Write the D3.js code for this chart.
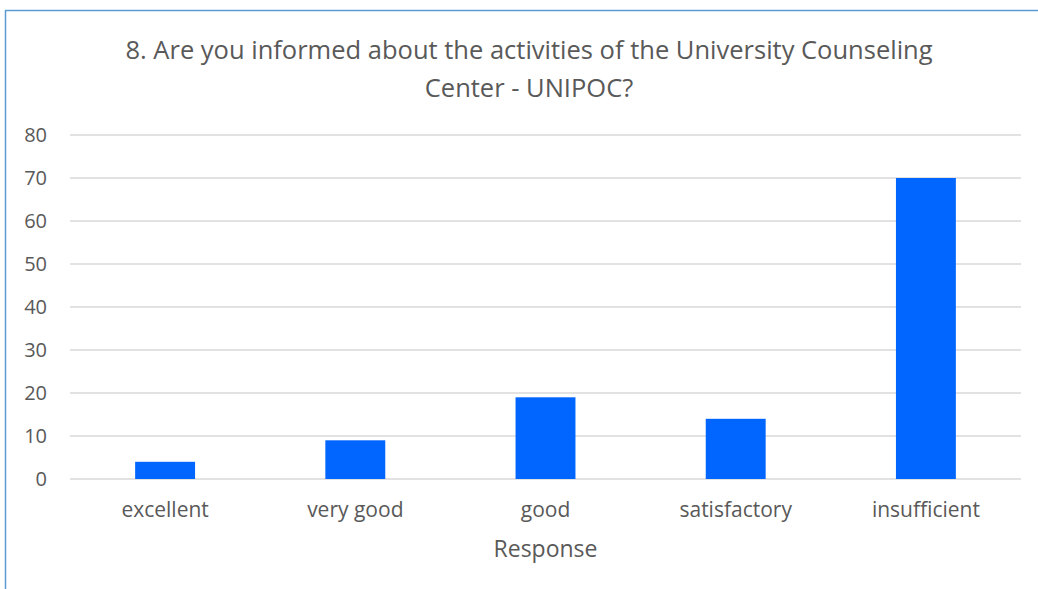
<!DOCTYPE html>
<html>
<head>
<meta charset="utf-8">
<script src="https://cdn.jsdelivr.net/npm/d3@7"></script>
<style>
  body { margin: 0; background: #fff; }
  text { font-family: "Open Sans", "Noto Sans", sans-serif; fill: #595959; }
  .grid-line { stroke: #d9d9d9; stroke-width: 1.3; }
</style>
</head>
<body>
<div id="chart"></div>
<script>
// Données
const categories = ["excellent", "very good", "good", "satisfactory", "insufficient"];
const values = [4, 9, 19, 14, 70];
const yTicks = [0, 10, 20, 30, 40, 50, 60, 70, 80];
const titleLines = ["8. Are you informed about the activities of the University Counseling", "Center - UNIPOC?"];
const xTitle = "Response";

const width = 1038, height = 589;
const margin = { top: 135, right: 17, bottom: 110, left: 70 };
const innerWidth = width - margin.left - margin.right;
const innerHeight = height - margin.top - margin.bottom;

const svg = d3.select("#chart")
  .append("svg")
    .attr("width", width)
    .attr("height", height);

// Cadre
svg.append("line")
  .attr("x1", 5.5).attr("x2", width)
  .attr("y1", 10.5).attr("y2", 10.5)
  .attr("stroke", "#5b9bd5").attr("stroke-width", 1.5);
svg.append("line")
  .attr("x1", 5.5).attr("x2", 5.5)
  .attr("y1", 10).attr("y2", height)
  .attr("stroke", "#5b9bd5").attr("stroke-width", 1.5);

// Titre
svg.append("text")
  .attr("x", 529)
  .attr("y", 59)
  .attr("text-anchor", "middle")
  .style("font-size", "25.5px")
  .selectAll("tspan")
  .data(titleLines)
  .join("tspan")
    .attr("x", 529)
    .attr("dy", (d, i) => i === 0 ? 0 : 38)
    .text(d => d);

const g = svg.append("g")
  .attr("transform", `translate(${margin.left},${margin.top})`);

const xScale = d3.scaleBand()
  .domain(categories)
  .range([0, innerWidth]);

const yScale = d3.scaleLinear()
  .domain([0, 80])
  .range([innerHeight, 0]);

// GRID
g.selectAll(".grid-line")
  .data(yTicks)
  .join("line")
    .attr("class", "grid-line")
    .attr("x1", 0)
    .attr("x2", innerWidth)
    .attr("y1", d => yScale(d))
    .attr("y2", d => yScale(d));

// Y-AXIS
const yAxis = g.append("g")
  .call(d3.axisLeft(yScale).tickValues(yTicks).tickSize(0).tickPadding(23));
yAxis.select(".domain").remove();
yAxis.selectAll("text").style("font-size", "20px").attr("fill", "#595959");

// BARS
const barWidth = xScale.bandwidth() * 0.315;
g.selectAll("rect.bar")
  .data(values)
  .join("rect")
    .attr("class", "bar")
    .attr("x", (d, i) => xScale(categories[i]) + (xScale.bandwidth() - barWidth) / 2)
    .attr("y", d => yScale(d))
    .attr("width", barWidth)
    .attr("height", d => innerHeight - yScale(d))
    .attr("fill", "#0066ff");

// X-AXIS
const xAxis = g.append("g")
  .attr("transform", `translate(0,${innerHeight})`)
  .call(d3.axisBottom(xScale).tickSize(0).tickPadding(23));
xAxis.select(".domain").remove();
xAxis.selectAll("text").style("font-size", "21px").attr("fill", "#595959");

svg.append("text")
  .attr("x", margin.left + innerWidth / 2)
  .attr("y", 557)
  .attr("text-anchor", "middle")
  .style("font-size", "23px")
  .text(xTitle);
</script>
</body>
</html>
